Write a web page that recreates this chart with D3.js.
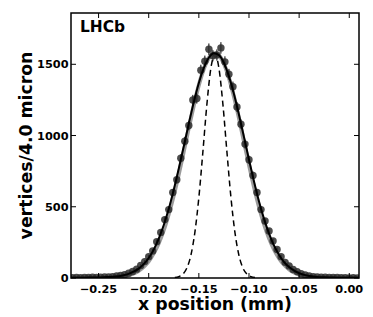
<!DOCTYPE html>
<html>
<head>
  <meta charset="utf-8">
  <title>LHCb vertex x position</title>
  <script src="https://cdn.jsdelivr.net/npm/d3@7/dist/d3.min.js"></script>
  <style>
    body { margin: 0; background: #fff; }
    svg text { font-family: "DejaVu Sans", sans-serif; font-weight: bold; fill: #000; }
  </style>
</head>
<body>
<svg id="chart" width="373" height="317"></svg>
<script>
  // binned vertex counts, 4 micron bins (centres in mm)
  var binCentres = d3.range(72).map(function(i) { return +(-0.276 + 0.004 * i).toFixed(3); });
  var counts = [
    2, 3, 2, 4, 3, 5, 4, 6, 7, 8, 10, 14, 18, 24, 33, 46, 62, 88, 115, 150,
    190, 255, 320, 410, 480, 600, 690, 840, 960, 1070, 1250, 1260, 1459, 1522, 1606, 1560,
    1565, 1615, 1517, 1430, 1342, 1200, 1080, 940, 830, 720, 600, 480, 400, 330,
    260, 200, 150, 110, 85, 60, 45, 30, 22, 14, 10, 8, 6, 5, 4, 3, 3, 2, 2, 1, 2, 1
  ];

  var curveX = d3.range(59).map(function(i) { return +(-0.280 + 0.005 * i).toFixed(3); });
  var totalFit = [
    1, 1, 2, 2, 3, 3, 4, 5, 7, 9, 13, 19, 29, 44, 66, 97, 140, 199, 276, 372,
    486, 620, 768, 925, 1084, 1236, 1369, 1475, 1547, 1577, 1564, 1509, 1415, 1292, 1146, 989,
    830, 678, 537, 415, 312, 227, 162, 112, 77, 52, 34, 22, 14, 9, 6, 5, 4, 3, 2, 2, 1, 1, 1
  ];
  var singleFit = [
    0, 0, 0, 0, 0, 0, 1, 1, 2, 4, 7, 12, 19, 32, 51, 79, 118, 173, 245, 336,
    450, 581, 730, 890, 1055, 1213, 1355, 1469, 1545, 1577, 1563, 1504, 1405, 1273, 1122, 957,
    794, 639, 499, 378, 278, 199, 138, 93, 61, 39, 24, 14, 8, 5, 3, 1, 1, 0, 0, 0, 0, 0, 0
  ];

  // narrow (luminous region) component, sampled every 4 micron
  var narrowX = d3.range(21).map(function(i) { return +(-0.174 + 0.004 * i).toFixed(3); });
  var narrowFit = [
    3, 9, 27, 69, 158, 319, 565, 884, 1218, 1473, 1570,
    1473, 1218, 884, 565, 319, 158, 69, 27, 9, 3
  ];

  var xTicks = [-0.25, -0.20, -0.15, -0.10, -0.05, 0.00];
  var yTicks = [0, 500, 1000, 1500];

  (function() {
    var svg = d3.select('#chart');
    var m = {left: 71, right: 359, top: 13, bottom: 278};

    var x = d3.scaleLinear().domain([-0.2775, 0.0097]).range([m.left, m.right]);
    var y = d3.scaleLinear().domain([0, 1860]).range([m.bottom, m.top]);

    var fmt = function(v) { return d3.format('.2f')(v).replace('-', '\u2212'); };

    svg.append('clipPath').attr('id', 'clip')
      .append('rect').attr('x', m.left).attr('y', m.top)
      .attr('width', m.right - m.left).attr('height', m.bottom - m.top);

    var curves = svg.append('g').attr('clip-path', 'url(#clip)');

    var line = function(xs) {
      return d3.line()
        .x(function(d, i) { return x(xs[i]); })
        .y(function(d) { return y(d); })
        .curve(d3.curveMonotoneX);
    };

    curves.append('path').datum(singleFit)
      .attr('d', line(curveX))
      .attr('fill', 'none').attr('stroke', '#888').attr('stroke-opacity', 0.85).attr('stroke-width', 4);

    curves.append('path').datum(narrowFit)
      .attr('d', line(narrowX))
      .attr('fill', 'none').attr('stroke', '#000').attr('stroke-width', 1.5).attr('stroke-dasharray', '6,4');

    // data points with poisson error bars
    var pts = curves.append('g');
    pts.selectAll('line').data(counts).enter().append('line')
      .attr('x1', function(d, i) { return x(binCentres[i]); })
      .attr('x2', function(d, i) { return x(binCentres[i]); })
      .attr('y1', function(d) { return y(d + Math.sqrt(d)); })
      .attr('y2', function(d) { return y(Math.max(0, d - Math.sqrt(d))); })
      .attr('stroke', '#000').attr('stroke-width', 1);
    pts.selectAll('circle').data(counts).enter().append('circle')
      .attr('cx', function(d, i) { return x(binCentres[i]); })
      .attr('cy', function(d) { return y(d); })
      .attr('r', 3.7)
      .attr('fill', '#2b2b2b').attr('fill-opacity', 0.85);

    curves.append('path').datum(totalFit)
      .attr('d', line(curveX))
      .attr('fill', 'none').attr('stroke', '#000').attr('stroke-width', 2);

    // ticks pointing inwards on all four sides
    var tk = svg.append('g').attr('stroke', '#000').attr('stroke-width', 1);
    xTicks.forEach(function(t) {
      tk.append('line').attr('x1', x(t)).attr('x2', x(t)).attr('y1', m.bottom).attr('y2', m.bottom - 5);
      tk.append('line').attr('x1', x(t)).attr('x2', x(t)).attr('y1', m.top).attr('y2', m.top + 5);
    });
    yTicks.forEach(function(t) {
      tk.append('line').attr('x1', m.left).attr('x2', m.left + 5).attr('y1', y(t)).attr('y2', y(t));
      tk.append('line').attr('x1', m.right).attr('x2', m.right - 5).attr('y1', y(t)).attr('y2', y(t));
    });

    svg.append('rect')
      .attr('x', m.left).attr('y', m.top).attr('width', m.right - m.left).attr('height', m.bottom - m.top)
      .attr('fill', 'none').attr('stroke', '#000').attr('stroke-width', 1.5);

    svg.append('g').selectAll('text').data(xTicks).enter().append('text')
      .attr('x', function(d) { return x(d); })
      .attr('y', 293)
      .attr('text-anchor', 'middle')
      .style('font-size', '11.3px')
      .text(fmt);

    svg.append('g').selectAll('text').data(yTicks).enter().append('text')
      .attr('x', 68.5)
      .attr('y', function(d) { return y(d) + 4; })
      .attr('text-anchor', 'end')
      .style('font-size', '11.3px')
      .text(function(d) { return d; });

    svg.append('text')
      .attr('x', (m.left + m.right) / 2).attr('y', 310)
      .attr('text-anchor', 'middle')
      .style('font-size', '17.3px')
      .text('x position (mm)');

    svg.append('text')
      .attr('transform', 'translate(32,' + (m.top + m.bottom) / 2 + ') rotate(-90)')
      .attr('text-anchor', 'middle')
      .style('font-size', '17.3px')
      .text('vertices/4.0 micron');

    svg.append('text')
      .attr('x', 80).attr('y', 32.3)
      .style('font-size', '15.4px')
      .text('LHCb');
  })();
</script>
</body>
</html>
